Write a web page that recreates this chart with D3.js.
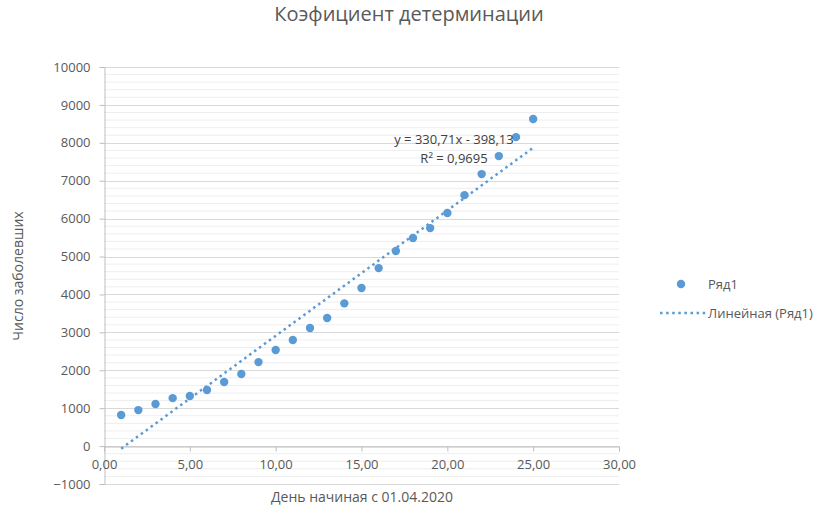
<!DOCTYPE html>
<html>
<head>
<meta charset="utf-8">
<script src="https://cdn.jsdelivr.net/npm/d3@7/dist/d3.min.js"></script>
<style>
  html, body { margin: 0; padding: 0; background: #fff; }
  svg { display: block; font-family: "Open Sans", "Noto Sans", sans-serif; }
</style>
</head>
<body>
<svg id="chart" width="821" height="516"></svg>
<script>
// ---- Data ----
const days = [1,2,3,4,5,6,7,8,9,10,11,12,13,14,15,16,17,18,19,20,21,22,23,24,25];
const cases = [820,950,1110,1265,1320,1480,1690,1900,2215,2535,2800,3115,3380,3765,4170,4695,5145,5490,5750,6150,6620,7175,7650,8150,8630];
const trendSlope = 330.71;
const trendIntercept = -398.13;
const xTicks = [0,5,10,15,20,25,30];
const yTicks = [-1000,0,1000,2000,3000,4000,5000,6000,7000,8000,9000,10000];
const titleText = "Коэфициент детерминации";
const xTitle = "День начиная с 01.04.2020";
const yTitle = "Число заболевших";
const seriesName = "Ряд1";
const trendName = "Линейная (Ряд1)";
const eqText = "y = 330,71x - 398,13";
const r2Text = "R² = 0,9695";

(function () {
const fmtX = d => d3.format(".2f")(d).replace(".", ",");

const svg = d3.select("#chart");
const pL = 104, pR = 619, pT = 67, pB = 484;
const x = d3.scaleLinear().domain([0, 30]).range([pL, pR]);
const y = d3.scaleLinear().domain([-1000, 10000]).range([pB, pT]);

const blue = "#5b9bd5";
const textCol = "#595959";

// minor gridlines
const minor = d3.range(-1000, 10001, 200).filter(v => v % 1000 !== 0);
svg.append("g").selectAll("line").data(minor).join("line")
  .attr("x1", pL).attr("x2", pR)
  .attr("y1", d => y(d)).attr("y2", d => y(d))
  .attr("stroke", "#eeeeee").attr("stroke-width", 1);

// major gridlines
svg.append("g").selectAll("line").data(yTicks).join("line")
  .attr("x1", pL).attr("x2", pR)
  .attr("y1", d => Math.round(y(d)) + 0.5).attr("y2", d => Math.round(y(d)) + 0.5)
  .attr("stroke", "#d9d9d9").attr("stroke-width", 1);

// y axis
const yAxis = d3.axisLeft(y).tickValues(yTicks).tickSize(5).tickPadding(9).tickFormat(d3.format("d"));
const gy = svg.append("g").attr("transform", `translate(${pL + 0.5},0)`).call(yAxis);
gy.select(".domain").attr("stroke", "#bfbfbf");
gy.selectAll(".tick line").attr("stroke", "#bfbfbf");
gy.selectAll(".tick text").attr("fill", textCol).style("font-size", "13px").style("font-family", '"Open Sans", sans-serif');

// x axis at y=0
const xAxis = d3.axisBottom(x).tickValues(xTicks).tickSize(5).tickPadding(8).tickFormat(fmtX);
const gx = svg.append("g").attr("transform", `translate(0,${Math.round(y(0)) + 0.5})`).call(xAxis);
gx.select(".domain").attr("stroke", "#bfbfbf");
gx.selectAll(".tick line").attr("stroke", "#bfbfbf");
gx.selectAll(".tick text").attr("fill", textCol).style("font-size", "13px").style("font-family", '"Open Sans", sans-serif');

// trendline
const xs = [days[0], days[days.length - 1]];
svg.append("line")
  .attr("x1", x(xs[0])).attr("y1", y(trendSlope * xs[0] + trendIntercept))
  .attr("x2", x(xs[1])).attr("y2", y(trendSlope * xs[1] + trendIntercept))
  .attr("stroke", blue).attr("stroke-width", 2.5).attr("stroke-dasharray", "2.5,3.6");

// points
svg.append("g").selectAll("circle").data(days).join("circle")
  .attr("cx", (d) => x(d)).attr("cy", (d, i) => y(cases[i]))
  .attr("r", 4.2).attr("fill", blue);

// equation label
const eq = svg.append("text").attr("text-anchor", "middle").attr("fill", "#404040").style("font-size", "13px");
eq.append("tspan").attr("x", 454).attr("y", 144).text(eqText);
eq.append("tspan").attr("x", 454).attr("y", 163).text(r2Text);

// title
svg.append("text").attr("x", 409).attr("y", 21).attr("text-anchor", "middle")
  .attr("fill", textCol).style("font-size", "20px").text(titleText);

// axis titles
svg.append("text").attr("x", 362).attr("y", 502).attr("text-anchor", "middle")
  .attr("fill", textCol).style("font-size", "14px").text(xTitle);
svg.append("text").attr("transform", "translate(23,276) rotate(-90)").attr("text-anchor", "middle")
  .attr("fill", textCol).style("font-size", "14px").text(yTitle);

// legend
svg.append("circle").attr("cx", 681).attr("cy", 284).attr("r", 4.2).attr("fill", blue);
svg.append("text").attr("x", 708).attr("y", 289).attr("fill", textCol).style("font-size", "13px").text(seriesName);
svg.append("line").attr("x1", 660).attr("x2", 706).attr("y1", 313).attr("y2", 313)
  .attr("stroke", blue).attr("stroke-width", 2.5).attr("stroke-dasharray", "2.5,3.6");
svg.append("text").attr("x", 708).attr("y", 318).attr("fill", textCol).style("font-size", "13px").text(trendName);
})();
</script>
</body>
</html>
